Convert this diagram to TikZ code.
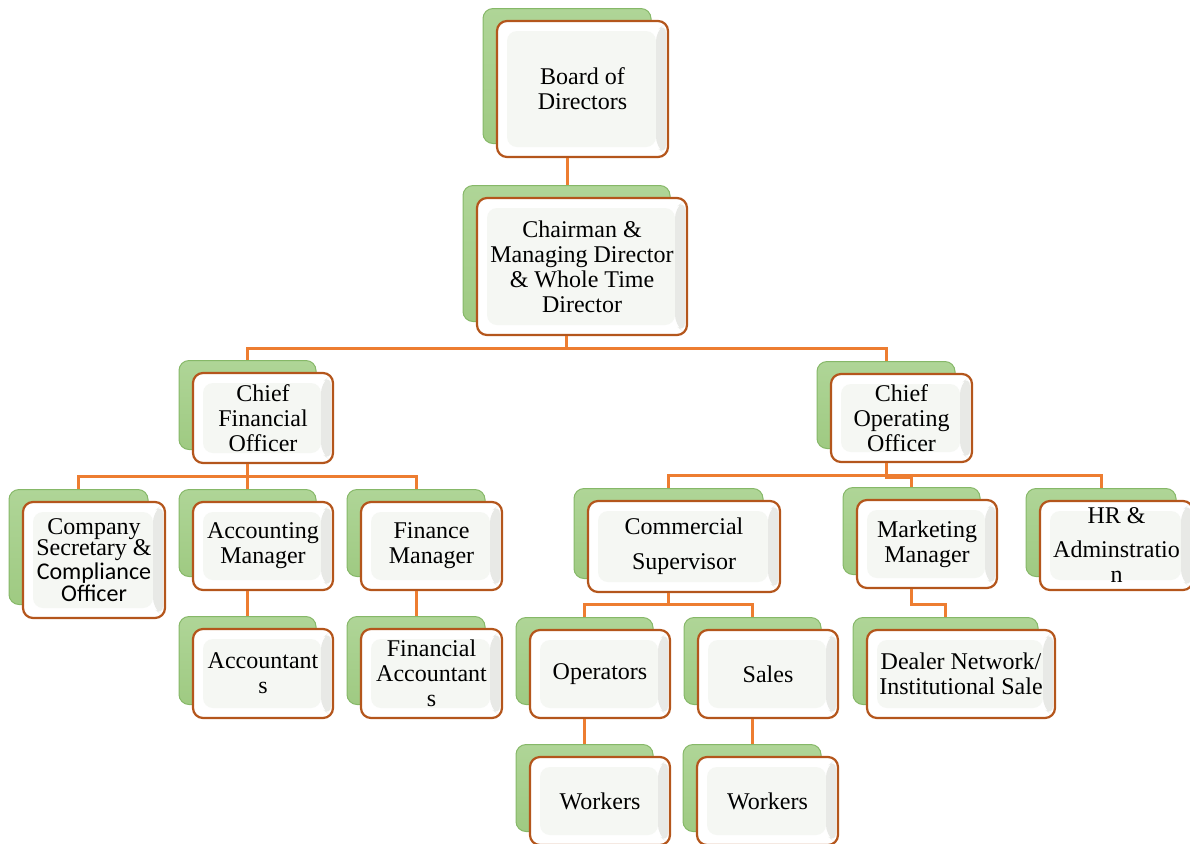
\documentclass[tikz,border=0pt]{standalone}
\usepackage{fontspec}
\setmainfont{Liberation Serif}
\newfontfamily\calibri{Carlito}

\definecolor{linkorange}{HTML}{ED7D31}
\definecolor{boxedge}{HTML}{B4561C}
\definecolor{shadowgreen}{HTML}{9FCA82}
\definecolor{shadowtop}{HTML}{AFD597}
\definecolor{shadowedge}{HTML}{86B868}
\definecolor{panel}{HTML}{F5F7F3}
\definecolor{bevelgray}{HTML}{E8E9E6}

\tikzset{
  green box/.style={draw=shadowedge, line width=0.5pt, rounded corners=5pt,
                    top color=shadowtop, bottom color=shadowgreen, inner sep=0pt},
  main box/.style={draw=boxedge, line width=1.1pt, rounded corners=5pt, fill=white,
                   align=center, inner sep=0pt, font=\fontsize{12}{12.5}\selectfont,
                   path picture={
                     \fill[panel] ([shift={(5pt,-5pt)}]path picture bounding box.north west)
                       rectangle ([shift={(-6pt,5pt)}]path picture bounding box.south east);
                     \fill[bevelgray] ([shift={(-6pt,-5pt)}]path picture bounding box.north east)
                       -- ([shift={(-1pt,-1pt)}]path picture bounding box.north east)
                       -- ([shift={(-1pt,1pt)}]path picture bounding box.south east)
                       -- ([shift={(-6pt,5pt)}]path picture bounding box.south east) -- cycle;
                   }},
  link/.style={draw=linkorange, line width=1.5pt}
}

% name, x, y, width, height (pixels), label
\newcommand{\orgbox}[7][]{%
  \node[green box, minimum width=(#5-3)*0.5pt, minimum height=(#6-1)*0.5pt] (#2-s) at (#3-15.5,#4-13) {};
  \node[main box, minimum width=#5*0.5pt, minimum height=#6*0.5pt, #1] (#2) at (#3,#4) {#7};
}

\begin{document}
\begin{tikzpicture}[x=0.5pt,y=-0.5pt]
\useasboundingbox (0,0) rectangle (1190,843);

% top of the chart
\orgbox{board}{582.5}{89}{171}{136}{Board of\\Directors}
\orgbox{chair}{582}{266.5}{210}{137}{Chairman \&\\Managing Director\\\& Whole Time\\Director}

% officers
\orgbox{cfo}{263}{418}{140}{90}{Chief\\Financial\\Officer}
\orgbox{coo}{901.5}{418}{141}{88}{Chief\\Operating\\Officer}

% managers
\orgbox[font=\fontsize{12}{10.9}\selectfont]{secy}{94}{560}{142}{116}{Company\\Secretary \&\\{\calibri Compliance}\\{\calibri Officer}}
\orgbox{accm}{263}{546}{140}{88}{Accounting\\Manager}
\orgbox{finm}{431.5}{546}{141}{88}{Finance\\Manager}
\orgbox{comm}{684}{546.5}{192}{91}{Commercial\\[5pt]Supervisor}
\orgbox{mktm}{927}{544}{140}{88}{Marketing\\Manager}
\orgbox{hr}{1116.5}{545.5}{153}{89}{HR \&\\[4.5pt]Adminstratio\\n}

% staff
\orgbox{acct}{263}{673.5}{140}{89}{Accountant\\s}
\orgbox{finacct}{431.5}{673.5}{141}{89}{Financial\\Accountant\\s}
\orgbox{oper}{600}{674}{140}{88}{Operators}
\orgbox{sales}{768}{674}{140}{88}{Sales}
\orgbox{dealer}{961}{674}{188}{88}{Dealer Network/\\Institutional Sale}
\orgbox{workA}{600}{801}{140}{88}{Workers}
\orgbox{workB}{767.5}{801}{141}{88}{Workers}

% connectors
\draw[link] (board-s.center |- board.south) -- (board-s.center |- chair-s.north);
\draw[link] (chair-s.center |- chair.south) -- ++(0,12) -| (cfo-s.north);
\draw[link] (chair-s.center |- chair.south) -- ++(0,12) -| (coo-s.north);

\draw[link] (cfo-s.center |- cfo.south) -- ++(0,12) -| (secy-s.north);
\draw[link] (cfo-s.center |- cfo.south) -- ++(0,12) -| (accm-s.north);
\draw[link] (cfo-s.center |- cfo.south) -- ++(0,12) -| (finm-s.north);

\draw[link] (coo-s.center |- coo.south) -- ++(0,12) -| (comm-s.north);
\draw[link] (coo-s.center |- coo.south) -- ++(0,14) -| (mktm-s.north);
\draw[link] (coo-s.center |- coo.south) -- ++(0,12) -| (hr-s.north);

\draw[link] (accm-s.center |- accm.south) -- (accm-s.center |- acct-s.north);
\draw[link] (finm-s.center |- finm.south) -- (finm-s.center |- finacct-s.north);

\draw[link] (comm-s.center |- comm.south) -- ++(0,11) -| (oper-s.north);
\draw[link] (comm-s.center |- comm.south) -- ++(0,11) -| (sales-s.north);
\draw[link] (mktm-s.center |- mktm.south) -- ++(0,15) -| (dealer-s.north);

\draw[link] (oper-s.center |- oper.south) -- (oper-s.center |- workA-s.north);
\draw[link] (sales-s.center |- sales.south) -- (sales-s.center |- workB-s.north);
\end{tikzpicture}
\end{document}
